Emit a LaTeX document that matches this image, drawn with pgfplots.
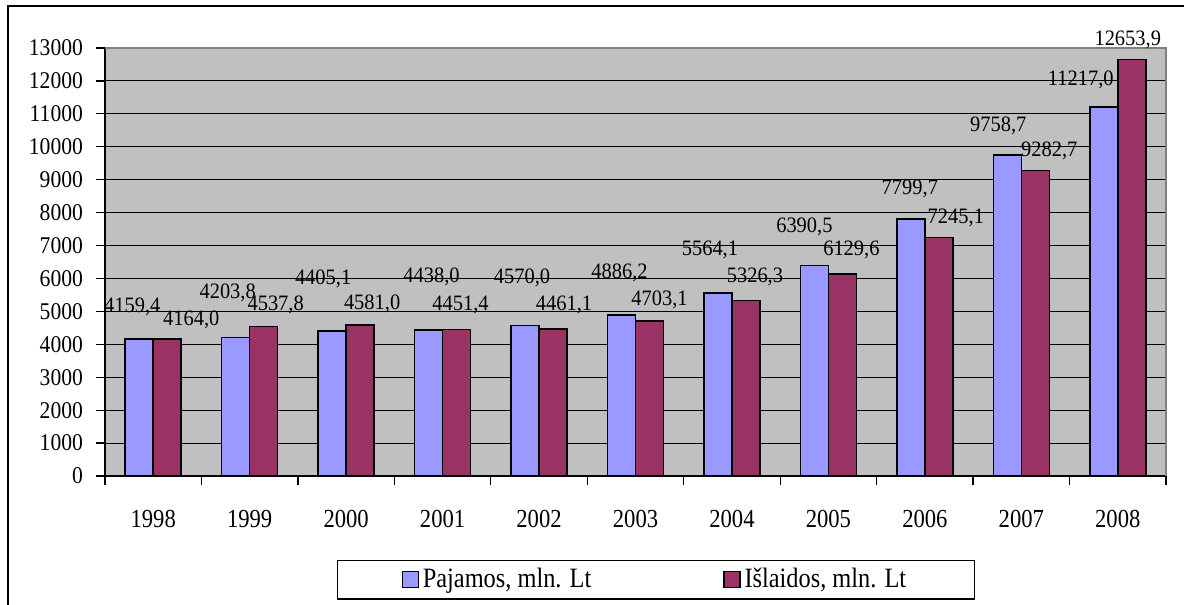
\documentclass[border=0pt]{standalone}
\usepackage{pgfplots}
\pgfplotsset{compat=1.18}
\usepackage{pgfplotstable}
\usepackage{fontspec}
\setmainfont{Liberation Serif}
\newfontfamily\ticksfont[FakeStretch=0.9]{Liberation Serif}
\newfontfamily\yearfont[FakeStretch=0.87]{Liberation Serif}
\newfontfamily\labelfont[FakeStretch=0.93]{Liberation Serif}

\definecolor{pajblue}{HTML}{9999FF}
\definecolor{islred}{HTML}{993366}
\definecolor{plotgray}{HTML}{C0C0C0}

% x = category, y = value, dx/dy = label offset (pt)
\pgfplotstableread{
x y dx dy
0 4159.4 -3.5 16
1 4203.8 -4 22.5
2 4405.1 -4.5 26
3 4438.0 1.5 26.5
4 4570.0 -1.5 24
5 4886.2 -1 21
6 5564.1 -4 21.5
7 6390.5 -5 19.5
8 7799.7 -0.5 15
9 9758.7 -4.5 14.5
10 11217.0 -11.5 13.5
}\pajamos

\pgfplotstableread{
x y dx dy
0 4164.0 12 9.5
1 4537.8 6 11
2 4581.0 6 10.5
3 4451.4 2 12.5
4 4461.1 5.5 12
5 4703.1 5 10.5
6 5326.3 4.5 12
7 6129.6 4.5 12
8 7245.1 8.5 10
9 9282.7 7 10
10 12653.9 -2 9.5
}\islaidos

\begin{document}
\begin{tikzpicture}
\path[use as bounding box] (0,0) rectangle (592pt,-302.5pt);
\draw[line width=1pt] (4pt,-302.5pt) -- (4pt,-3pt) -- (592pt,-3pt);

\begin{axis}[
  at={(52.5pt,-238pt)}, anchor=south west,
  scale only axis, width=530.5pt, height=214pt,
  xmin=-0.5, xmax=10.5, ymin=0, ymax=13000,
  clip=false,
  axis background/.style={fill=plotgray},
  axis x line*=bottom, axis y line*=left,
  axis line style={black, line width=0.6pt},
  ytick={0,1000,...,13000},
  scaled y ticks=false,
  xtick={-0.5,0.5,...,10.5},
  x tick label as interval,
  xticklabels={1998,1999,2000,2001,2002,2003,2004,2005,2006,2007,2008},
  tick align=outside,
  major tick length=4.5pt,
  tick style={black, line width=0.6pt},
  ymajorgrids,
  grid style={black, line width=0.5pt},
  /pgf/number format/assume math mode=true,
  /pgf/number format/1000 sep={},
  yticklabel style={xshift=-3pt, font=\ticksfont\fontsize{12}{14}\selectfont},
  xticklabel style={yshift=-9pt, font=\yearfont\fontsize{13}{15}\selectfont},
  ybar, bar width=14pt,
  visualization depends on={\thisrow{dx} \as \dx},
  visualization depends on={\thisrow{dy} \as \dy},
  nodes near coords={\pgfmathprintnumber[fixed, fixed zerofill, precision=1, use comma, 1000 sep={}]{\pgfplotspointmeta}},
  every node near coord/.append style={anchor=center, xshift=\dx pt, yshift=\dy pt,
    font=\labelfont\fontsize{11}{13}\selectfont, inner sep=0pt},
  legend columns=2,
  legend style={at={(0.2187,-0.196)}, anchor=north west, draw=black,
    line width=0.6pt, font=\yearfont\fontsize{14}{16}\selectfont,
    inner xsep=32pt, inner ysep=2pt,
    /tikz/every even column/.append style={column sep=64pt}},
  legend image code/.code={\draw[#1, line width=0.6pt] (0pt,-4pt) rectangle (8pt,4pt);},
]
  \addplot[fill=pajblue, draw=black, line width=0.8pt, bar shift=-7pt]
    table[x=x, y=y] {\pajamos};
  \addlegendentry{Pajamos, mln. Lt}
  \addplot[fill=islred, draw=black, line width=0.8pt, bar shift=7pt]
    table[x=x, y=y] {\islaidos};
  \addlegendentry{Išlaidos, mln. Lt}

  \draw[gray, line width=0.6pt] (rel axis cs:0,1) -- (rel axis cs:1,1) -- (rel axis cs:1,0);
\end{axis}
\end{tikzpicture}
\end{document}
